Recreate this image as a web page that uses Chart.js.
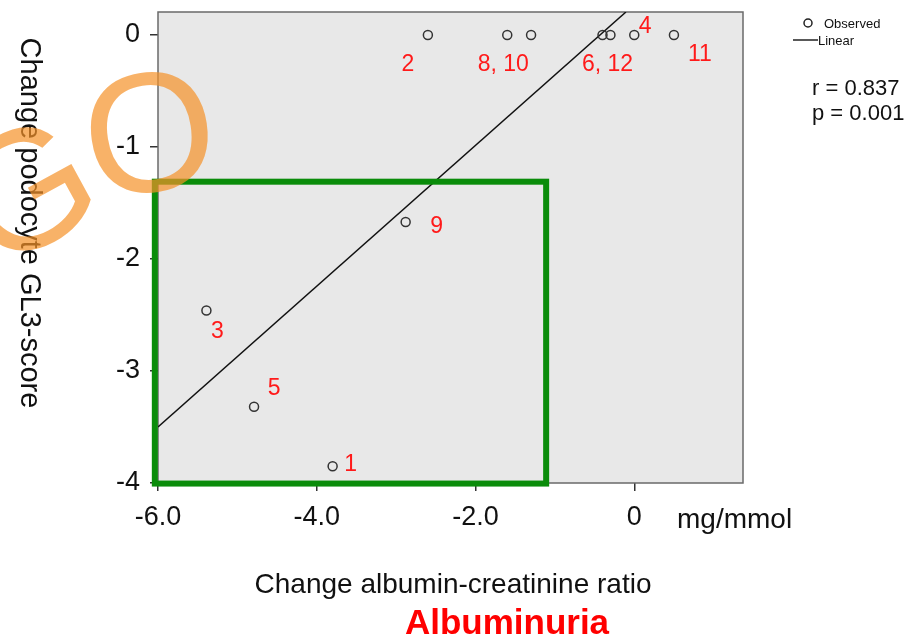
<!DOCTYPE html>
<html>
<head>
<meta charset="utf-8">
<script src="https://cdn.jsdelivr.net/npm/chart.js@4.4.1/dist/chart.umd.min.js"></script>
<style>
  html, body { margin: 0; padding: 0; background: #fff; }
  canvas { display: block; }
</style>
</head>
<body>
<canvas id="myChart" width="910" height="638"></canvas>
<script>
// patients 1,2,3,4,5,6,8,9,10,11,12
const obsX = [-3.80, -2.60, -5.39, 0.00, -4.79, -0.40, -1.60, -2.88, -1.30, 0.50, -0.30]
const obsY = [-3.85, 0.00, -2.46, 0.00, -3.32, 0.00, 0.00, -1.67, 0.00, 0.00, 0.00]

// fitted line end points
const lineX = [-6.0, -0.105]
const lineY = [-3.50, 0.205]

const pointLabels = ['1', '2', '3', '4', '5', '6, 12', '8, 10', '9', '11']
const labelAnchor = [0, 1, 2, 3, 4, 5, 6, 7, 9]

const xTicks = [-6, -4, -2, 0]
const xTickLabels = ['-6.0', '-4.0', '-2.0', '0']
const yTicks = [0, -1, -2, -3, -4]
const yTickLabels = ['0', '-1', '-2', '-3', '-4']

// highlighted region (data units)
const boxX = [-6.04, -1.11]
const boxY = [-1.31, -4.005]

const stats = ['r = 0.837', 'p = 0.001']

const FONT = "'Liberation Sans', Arial, sans-serif"

// pixel offsets for the red point labels
const labelOffset = [[18, -2], [-20, 30], [11, 21], [11, -8], [20, -18], [5, 30], [-4, 30], [31, 5], [26, 20]]

const chartPlugin = {
    id: 'extras',
    beforeDatasetsDraw(chart) {
        const { ctx, chartArea: a } = chart
        ctx.save()
        ctx.fillStyle = '#e8e8e8'
        ctx.fillRect(a.left, a.top, a.right - a.left, a.bottom - a.top)
        ctx.strokeStyle = '#6a6a6a'
        ctx.lineWidth = 1.5
        ctx.strokeRect(a.left, a.top, a.right - a.left, a.bottom - a.top)
        ctx.restore()
    },
    afterDatasetsDraw(chart) {
        const { ctx } = chart
        const x = chart.scales.x
        const y = chart.scales.y
        ctx.save()
        // red labels
        ctx.fillStyle = '#ff1a1a'
        ctx.font = '23px ' + FONT
        ctx.textAlign = 'center'
        ctx.textBaseline = 'middle'
        pointLabels.forEach((t, i) => {
            const k = labelAnchor[i]
            const px = x.getPixelForValue(obsX[k]) + labelOffset[i][0]
            const py = y.getPixelForValue(obsY[k]) + labelOffset[i][1]
            ctx.fillText(t, px, py)
        })
        // green box
        const x0 = x.getPixelForValue(boxX[0]), x1 = x.getPixelForValue(boxX[1])
        const y0 = y.getPixelForValue(boxY[0]), y1 = y.getPixelForValue(boxY[1])
        ctx.strokeStyle = '#0a8c0a'
        ctx.lineWidth = 6
        ctx.strokeRect(x0, y0, x1 - x0, y1 - y0)
        ctx.restore()
    },
    afterDraw(chart) {
        const { ctx } = chart
        ctx.save()
        ctx.fillStyle = '#111'
        ctx.textBaseline = 'alphabetic'

        // axis titles
        ctx.font = '28px ' + FONT
        ctx.textAlign = 'center'
        ctx.fillText('Change albumin-creatinine ratio', 453, 593)
        ctx.textAlign = 'left'
        ctx.fillText('mg/mmol', 677, 528)

        ctx.save()
        ctx.translate(21, 223)
        ctx.rotate(Math.PI / 2)
        ctx.textAlign = 'center'
        ctx.font = '29px ' + FONT
        ctx.fillText('Change podocyte GL3-score', 0, 0)
        ctx.restore()

        ctx.font = 'bold 35px ' + FONT
        ctx.fillStyle = '#ff0000'
        ctx.textAlign = 'center'
        ctx.fillText('Albuminuria', 507, 634)

        // legend
        ctx.fillStyle = '#111'
        ctx.font = '13px ' + FONT
        ctx.textAlign = 'left'
        ctx.beginPath()
        ctx.arc(808, 23, 4, 0, Math.PI * 2)
        ctx.strokeStyle = '#222'
        ctx.lineWidth = 1.5
        ctx.stroke()
        ctx.fillText('Observed', 824, 28)
        ctx.beginPath()
        ctx.moveTo(793, 40)
        ctx.lineTo(818, 40)
        ctx.stroke()
        ctx.fillText('Linear', 818, 45)

        ctx.font = '22px ' + FONT
        ctx.fillText(stats[0], 812, 95)
        ctx.fillText(stats[1], 812, 120)

        // GO watermark
        ctx.fillStyle = 'rgba(245, 145, 40, 0.7)'
        ctx.font = '170px ' + FONT
        ctx.textAlign = 'center'
        ctx.textBaseline = 'middle'
        ctx.save()
        ctx.translate(151, 144)
        ctx.rotate(-0.15)
        ctx.fillText('O', 0, 0)
        ctx.restore()
        ctx.save()
        ctx.translate(30, 200)
        ctx.rotate(-0.5)
        ctx.fillText('G', 0, 0)
        ctx.restore()
        ctx.restore()
    }
}

const ctx = document.getElementById('myChart')

new Chart(ctx, {
    type: 'scatter',
    data: {
        datasets: [{
            label: 'Observed',
            data: obsX.map((v, i) => ({ x: v, y: obsY[i] })),
            pointRadius: 4.5,
            pointBorderWidth: 1.5,
            pointBorderColor: '#333',
            pointBackgroundColor: 'rgba(0,0,0,0)',
            showLine: false
        }, {
            label: 'Linear',
            type: 'line',
            data: lineX.map((v, i) => ({ x: v, y: lineY[i] })),
            borderColor: '#111',
            borderWidth: 1.5,
            pointRadius: 0,
            fill: false
        }]
    },
    options: {
        responsive: false,
        animation: false,
        devicePixelRatio: 1,
        layout: { padding: { top: 12, right: 167, left: 0, bottom: 0 } },
        plugins: {
            legend: { display: false },
            tooltip: { enabled: false }
        },
        scales: {
            x: {
                type: 'linear',
                min: -6.0,
                max: 1.37,
                afterBuildTicks: s => { s.ticks = xTicks.map(v => ({ value: v })) },
                afterFit: s => { s.height = 155; s.paddingLeft = 0; s.paddingRight = 0 },
                border: { display: false },
                grid: { drawOnChartArea: false, drawTicks: true, tickLength: 8, color: '#333', lineWidth: 1.5 },
                ticks: {
                    color: '#111',
                    padding: 10,
                    maxRotation: 0,
                    font: { family: FONT, size: 27 },
                    callback: (v) => xTickLabels[xTicks.indexOf(v)]
                }
            },
            y: {
                type: 'linear',
                min: -4.0,
                max: 0.205,
                afterBuildTicks: s => { s.ticks = yTicks.map(v => ({ value: v })) },
                afterFit: s => { s.width = 158; s.paddingTop = 0; s.paddingBottom = 0 },
                border: { display: false },
                grid: { drawOnChartArea: false, drawTicks: true, tickLength: 8, color: '#333', lineWidth: 1.5 },
                ticks: {
                    color: '#111',
                    padding: 10,
                    font: { family: FONT, size: 27 },
                    callback: (v) => yTickLabels[yTicks.indexOf(v)]
                }
            }
        }
    },
    plugins: [chartPlugin]
})
</script>
</body>
</html>
